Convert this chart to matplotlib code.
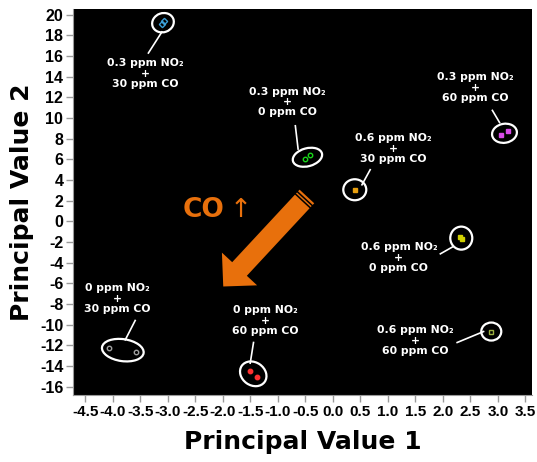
#!/usr/bin/env python3
"""PCA score plot of NO2/CO gas mixtures on a black background."""

import matplotlib

matplotlib.use("Agg")
import matplotlib.pyplot as plt
import numpy as np
from matplotlib.patches import Ellipse
from matplotlib.transforms import ScaledTranslation

plt.rcParams["axes.unicode_minus"] = False

# groups (one per gas mixture)
group_labels = [
    "0.3 ppm NO₂\n+\n30 ppm CO",
    "0.3 ppm NO₂\n+\n0 ppm CO",
    "0.3 ppm NO₂\n+\n60 ppm CO",
    "0.6 ppm NO₂\n+\n30 ppm CO",
    "0.6 ppm NO₂\n+\n0 ppm CO",
    "0.6 ppm NO₂\n+\n60 ppm CO",
    "0 ppm NO₂\n+\n30 ppm CO",
    "0 ppm NO₂\n+\n60 ppm CO",
]
pv1 = [
    [-3.11, -3.06],
    [-0.50, -0.42],
    [3.05, 3.19],
    [0.40],
    [2.32, 2.35],
    [2.88],
    [-4.06, -3.57],
    [-1.51, -1.38],
]
pv2 = [
    [19.10, 19.35],
    [6.03, 6.38],
    [8.35, 8.70],
    [3.06],
    [-1.56, -1.68],
    [-10.66],
    [-12.27, -12.65],
    [-14.49, -15.01],
]

# styling / placement
colors = ["#3a9fd8", "#19d619", "#d84ae8", "#e8a010", "#d0d000", "#9cb040", "#a0a0a0", "#ff3030"]
markers = ["D", "o", "s", "s", "s", "s", "o", "o"]
filled = [False, False, True, True, True, False, False, True]
ell_px = [(22, 19, 20), (30, 18, 15), (25, 19, 10), (23, 21, 0),
          (22, 23, 0), (20, 18, 0), (42, 22, -8), (28, 23, -35)]
label_xy = [(-3.41, 14.3), (-0.82, 11.55), (2.59, 12.93), (1.10, 7.03),
            (1.20, -3.52), (1.50, -11.56), (-3.92, -7.49), (-1.23, -9.62)]
connectors = [
    ((-3.35, 16.29), (-3.105, 18.33)),
    ((-0.68, 9.25), (-0.63, 7.00)),
    ((2.90, 10.74), (3.03, 9.57)),
    ((0.68, 5.00), (0.53, 3.54)),
    ((1.955, -3.14), (2.19, -2.43)),
    ((2.26, -11.72), (2.74, -10.66)),
    ((-3.59, -9.59), (-3.77, -11.46)),
    ((-1.44, -11.72), (-1.50, -13.72)),
]
arrow_tail = (-0.47, 2.41)
arrow_tip = (-1.99, -6.30)
orange = "#e8700c"

xticks = np.arange(-4.5, 3.51, 0.5)
yticks = np.arange(-16, 21, 2)

fig = plt.figure(figsize=(5.37, 4.62), dpi=100)
ax = fig.add_axes([73 / 537, 67 / 462, (532 - 73) / 537, (395 - 9) / 462])
ax.set_facecolor("black")
ax.set_xlim(-4.72, 3.62)
ax.set_ylim(-16.8, 20.55)

for i, label in enumerate(group_labels):
    c = colors[i]
    ax.plot(pv1[i], pv2[i], ls="none", marker=markers[i], ms=3.2, mew=1.0,
            mec=c, mfc=c if filled[i] else "none", zorder=4)
    cx, cy = np.mean(pv1[i]), np.mean(pv2[i])
    w, h, ang = ell_px[i]
    ell = Ellipse((0, 0), w / 100, h / 100, angle=ang, fill=False, ec="white", lw=1.6,
                  transform=fig.dpi_scale_trans + ScaledTranslation(cx, cy, ax.transData),
                  zorder=3)
    ax.add_patch(ell)
    (x0, y0), (x1, y1) = connectors[i]
    ax.plot([x0, x1], [y0, y1], color="white", lw=1.2, zorder=3)
    ax.text(label_xy[i][0], label_xy[i][1], label, color="white", fontsize=7.8,
            fontweight="bold", ha="center", va="center", linespacing=1.05)

ax.annotate("", xy=arrow_tip, xytext=arrow_tail,
            arrowprops=dict(arrowstyle="simple,head_length=0.86,head_width=1.73,tail_width=0.72",
                            mutation_scale=20, fc=orange, ec="none", shrinkA=0, shrinkB=0),
            zorder=5)
# stripes at the tail end of the arrow
t = ax.transData.transform(arrow_tail)
p = ax.transData.transform(arrow_tip)
u = (p - t) / np.linalg.norm(p - t)
n = np.array([-u[1], u[0]])
inv = ax.transData.inverted()
for d in (3.0, 6.0):
    c = t + u * d
    a, b = inv.transform([c - n * 13, c + n * 13])
    ax.plot([a[0], b[0]], [a[1], b[1]], color="black", lw=1.1, zorder=6)

ax.text(-2.34, 1.12, "CO", color=orange, fontsize=19, fontweight="bold",
        ha="center", va="center")
ax.text(-1.68, 1.12, "↑", color=orange, fontsize=19, ha="center", va="center")

ax.set_xticks(xticks)
ax.set_xticklabels([f"{v:.1f}" for v in xticks])
ax.set_yticks(yticks)
ax.set_yticklabels([f"{v:d}" for v in yticks])
for lab in ax.get_xticklabels():
    lab.set_family("Liberation Sans")
    lab.set_fontweight("bold")
    lab.set_fontsize(11)
for lab in ax.get_yticklabels():
    lab.set_family("Liberation Sans")
    lab.set_fontweight("bold")
    lab.set_fontsize(11.5)
ax.tick_params(axis="both", colors="#9a9a9a", length=5, width=1, labelcolor="black", pad=2)
for side in ("left", "bottom"):
    ax.spines[side].set_color("#9a9a9a")
for side in ("right", "top"):
    ax.spines[side].set_visible(False)

ax.set_xlabel("Principal Value 1", fontsize=18, fontweight="bold")
ax.set_ylabel("Principal Value 2", fontsize=18, fontweight="bold")
ax.xaxis.set_label_coords(0.5, -0.09)
ax.yaxis.set_label_coords(-0.085, 0.5)

fig.savefig("out.png", dpi=100)
